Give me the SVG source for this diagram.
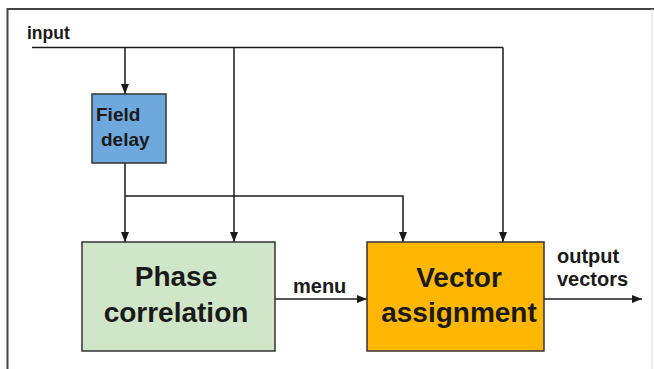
<svg xmlns="http://www.w3.org/2000/svg" width="654" height="369" viewBox="0 0 654 369">
  <defs>
    <marker id="arr" markerWidth="10" markerHeight="8" refX="10" refY="4" orient="auto" markerUnits="userSpaceOnUse">
      <path d="M0,0 L10,4 L0,8 Z" fill="#1a1a1a"/>
    </marker>
  </defs>
  <style>
    .lbl { font-family: "Liberation Sans", Arial, sans-serif; font-weight: bold; fill: #1a1a1a; }
    .big { font-size: 28px; text-anchor: middle; }
    .box { stroke: #333; stroke-width: 1.5; }
    .wire { fill: none; stroke: #1a1a1a; stroke-width: 1.5; }
  </style>
  <rect x="0" y="0" width="654" height="369" fill="#ffffff"/>
  <g id="frame" fill="none" stroke="#444" stroke-width="2">
    <path d="M7.5,369 L7.5,9 L654,9"/>
    <path d="M652,9 L652,369" stroke="#ddd" stroke-width="1"/>
  </g>
  <g id="connectors">
    <path class="wire" d="M32,47.5 L503,47.5" stroke-width="2"/>
    <path class="wire" d="M125,47.5 L125,94" marker-end="url(#arr)"/>
    <path class="wire" d="M234,47.5 L234,242" marker-end="url(#arr)"/>
    <path class="wire" d="M503,47.5 L503,242" marker-end="url(#arr)"/>
    <path class="wire" d="M125,163 L125,242" marker-end="url(#arr)"/>
    <path class="wire" d="M125,196 L403,196 L403,242" marker-end="url(#arr)"/>
    <path class="wire" d="M275,299 L367,299" marker-end="url(#arr)"/>
    <path class="wire" d="M544,299 L642,299" marker-end="url(#arr)"/>
  </g>
  <g id="input-label">
    <text class="lbl" x="27" y="39" font-size="17.5">input</text>
  </g>
  <g id="field-delay">
    <rect class="box" x="92" y="94" width="74" height="69" fill="#6FA8DC"/>
    <text class="lbl" x="96" y="121" font-size="19">Field</text>
    <text class="lbl" x="101" y="146" font-size="19">delay</text>
  </g>
  <g id="phase-correlation">
    <rect class="box" x="82" y="242" width="193" height="109" fill="#CFE6C9"/>
    <text class="lbl big" x="176" y="286">Phase</text>
    <text class="lbl big" x="176" y="322">correlation</text>
  </g>
  <g id="vector-assignment">
    <rect class="box" x="367" y="242" width="177" height="109" fill="#FFB703"/>
    <text class="lbl big" x="459" y="287">Vector</text>
    <text class="lbl big" x="459" y="322">assignment</text>
  </g>
  <g id="menu-label">
    <text class="lbl" x="293" y="293" font-size="20">menu</text>
  </g>
  <g id="output-label">
    <text class="lbl" x="557" y="263" font-size="20">output</text>
    <text class="lbl" x="557" y="286" font-size="20">vectors</text>
  </g>
</svg>
